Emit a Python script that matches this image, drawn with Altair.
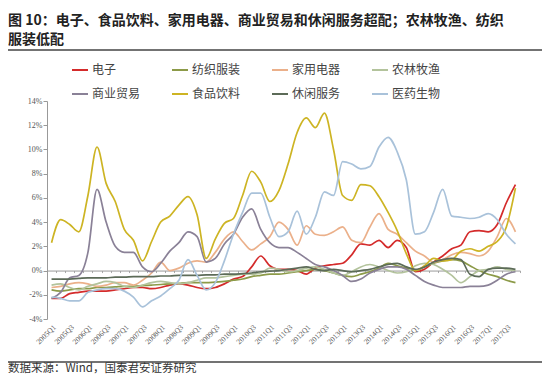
import altair as alt
import pandas as pd

# ---------------- data (% of portfolio over/under weight) ----------------
tick_labels = ["2005Q1", "2005Q3", "2006Q1", "2006Q3", "2007Q1", "2007Q3", "2008Q1", "2008Q3",
               "2009Q1", "2009Q3", "2010Q1", "2010Q3", "2011Q1", "2011Q3", "2012Q1", "2012Q3",
               "2013Q1", "2013Q3", "2014Q1", "2014Q3", "2015Q1", "2015Q3", "2016Q1", "2016Q3",
               "2017Q1", "2017Q3"]

series_names = ["电子", "纺织服装", "家用电器", "农林牧渔", "商业贸易", "食品饮料", "休闲服务", "医药生物"]
series_colors = ["#d42b2b", "#8c9a48", "#ebb08a", "#b3c39c", "#8a8197", "#cdb423", "#5c6b58", "#a9c2da"]

dianzi = [-2.3, -2.3, -1.9, -1.8, -1.7, -1.7, -1.7, -1.6, -1.5, -1.4, -1.4, -1.5, -1.4,
          -1.2, -1.1, -1.2, -1.4, -1.5, -1.4, -1.1, -0.7, -0.5, 0.3, 1.2, 0.4, 0.1,
          0.1, 0.0, -0.3, 0.2, 0.4, 0.5, 0.6, 1.3, 2.2, 2.1, 2.5, 1.9, 2.5, 1.9,
          -0.1, 0.1, 0.7, 1.2, 1.8, 2.1, 3.2, 3.3, 3.2, 3.8, 5.6, 7.1]
fangzhi = [-1.6, -1.7, -1.6, -1.5, -1.5, -1.4, -1.4, -1.35, -1.3, -1.3, -1.25, -1.2, -1.15,
           -1.1, -1.05, -1.0, -1.0, -1.0, -0.95, -0.9, -0.8, -0.7, -0.5, -0.4, -0.3, -0.3,
           -0.2, -0.1, 0.0, 0.1, 0.0, -0.2, -0.4, -0.5, -0.3, -0.1, 0.2, 0.6, 0.4, 0.2,
           0.0, 0.3, 0.6, 0.8, 0.9, 0.8, 0.4, 0.0, -0.3, -0.5, -0.8, -1.0]
jiadian = [-1.4, -1.3, -1.1, -1.0, -1.1, -1.3, -1.2, -1.0, -1.0, -1.2, -0.8, -0.2, 0.7,
           0.0, 0.2, 0.6, 0.8, 0.7, 1.5, 2.6, 3.2, 2.4, 1.7, 2.2, 2.8, 4.0,
           3.4, 2.1, 3.7, 3.0, 2.9, 3.2, 3.6, 2.5, 2.3, 3.6, 4.7, 3.4, 3.0, 2.3,
           1.6, 1.2, 0.7, 0.9, 1.3, 1.5, 1.4, 1.2, 1.6, 2.8, 4.3, 3.2]
nonglin = [-1.2, -1.1, -1.4, -1.6, -1.3, -1.1, -0.9, -1.0, -1.3, -1.4, -1.2, -1.0, -0.9,
           -1.0, -1.1, -1.0, -0.8, -0.6, -0.6, -0.5, -0.4, -0.3, -0.3, -0.2, 0.2, 0.1,
           -0.1, 0.0, 0.2, 0.3, 0.1, -0.2, -0.4, -0.1, 0.3, 0.5, 0.3, 0.0, -0.2, -0.1,
           0.4, 0.6, 0.5, 0.1, -0.4, -1.0, -0.5, 0.0, 0.1, 0.3, 0.1, 0.0]
shangye = [-2.3, -1.8, -0.6, -0.4, 1.5, 6.7, 4.0, 2.0, 1.5, 1.5, 0.3, -0.1, 0.6,
           1.6, 2.3, 3.2, 2.8, 0.7, 1.0, 2.2, 3.0, 4.4, 5.1, 3.4, 2.3, 1.9,
           1.9, 1.5, 1.0, 0.5, 0.3, 0.0, -0.4, -0.9, -0.7, -0.2, 0.1, 0.3, 0.3, 0.1,
           -0.4, -0.9, -1.2, -1.4, -1.4, -1.4, -1.3, -1.3, -1.2, -0.8, -0.3, -0.1]
shipin = [2.3, 4.2, 3.8, 3.2, 6.2, 10.2, 7.2, 5.7, 3.4, 2.5, 0.8, 2.4, 4.0,
          4.5, 5.4, 6.1, 4.6, 1.0, 2.6, 3.9, 4.3, 6.2, 8.2, 7.3, 5.7, 6.6,
          8.8, 11.4, 12.6, 11.8, 13.0, 10.0, 6.2, 5.8, 7.1, 7.0, 6.1, 4.8, 3.3, 1.4,
          0.0, 0.4, 1.0, 0.8, 0.9, 1.6, 1.8, 1.6, 2.0, 2.4, 3.6, 6.8]
xiuxian = [-0.7, -0.7, -0.7, -0.65, -0.6, -0.6, -0.6, -0.55, -0.55, -0.5, -0.5, -0.5, -0.45,
           -0.45, -0.4, -0.4, -0.4, -0.35, -0.35, -0.3, -0.3, -0.25, -0.2, -0.1, -0.05, 0.0,
           0.1, 0.2, 0.3, 0.1, 0.0, 0.1, 0.0, -0.1, 0.0, 0.1, 0.3, 0.5, 0.6, 0.3,
           0.1, 0.3, 0.7, 0.9, 1.0, 0.9, -0.3, -0.5, 0.1, 0.2, 0.2, 0.1]
yiyao = [-2.2, -2.3, -2.5, -2.5, -1.8, -1.6, -1.5, -1.5, -1.7, -2.2, -3.0, -2.5, -2.1,
         -1.5, -0.8, 0.9, -0.4, -1.6, -1.0, 0.8, 3.0, 4.8, 6.4, 6.4, 4.4, 2.8,
         3.2, 4.9, 3.0, 4.4, 6.5, 6.2, 9.0, 8.8, 8.4, 8.6, 10.2, 11.0, 9.8, 7.5,
         3.0, 3.2, 4.8, 6.7, 4.5, 4.4, 4.3, 4.4, 4.7, 4.2, 3.0, 2.2]

all_values = [dianzi, fangzhi, jiadian, nonglin, shangye, shipin, xiuxian, yiyao]

title_line1 = "图 10：电子、食品饮料、家用电器、商业贸易和休闲服务超配；农林牧渔、纺织"
title_line2 = "服装低配"
source_text = "数据来源：Wind，国泰君安证券研究"

rows = []
for name, vals in zip(series_names, all_values):
    for i, v in enumerate(vals):
        rows.append({"i": i, "series": name, "value": v})
df = pd.DataFrame(rows)

# ---------------- chart ----------------
W, H = 473, 218
CJK = "Noto Sans CJK SC"
SERIF = "Liberation Serif"

xscale = alt.Scale(domain=[-0.5, 51.5], nice=False, zero=False)
yscale = alt.Scale(domain=[-4, 14], nice=False)

label_array = "[" + ",".join(f"'{t}'" for t in tick_labels) + "]"

lines = alt.Chart(df).mark_line(strokeWidth=1.7, interpolate="monotone").encode(
    x=alt.X("i:Q", scale=xscale,
            axis=alt.Axis(orient="bottom", values=list(range(0, 51, 2)),
                          labelExpr=label_array + "[round(datum.value/2)]",
                          labelAngle=315, labelFont=SERIF, labelFontSize=7.5,
                          labelColor="#555", labelPadding=4, domain=False, ticks=False,
                          grid=False, title=None, labelOverlap=False, labelBound=False)),
    y=alt.Y("value:Q", scale=yscale,
            axis=alt.Axis(values=list(range(-4, 15, 2)), labelExpr="datum.value + '%'",
                          labelFont=SERIF, labelFontSize=8, labelColor="#555",
                          domainColor="#999", tickColor="#999", tickSize=4, labelPadding=1,
                          grid=False, title=None)),
    color=alt.Color("series:N",
                    scale=alt.Scale(domain=series_names, range=series_colors),
                    sort=series_names,
                    legend=alt.Legend(orient="none", legendX=24, legendY=-40, direction="horizontal",
                                      columns=4, symbolType="stroke", symbolSize=256,
                                      symbolStrokeWidth=2, labelFont=CJK, labelFontSize=12,
                                      labelColor="#444", labelOffset=3, columnPadding=27,
                                      rowPadding=9, title=None)),
    order=alt.Order("i:Q"),
)

zero_axis = alt.Chart(df).mark_point(opacity=0).encode(
    x=alt.X("i:Q", scale=xscale,
            axis=alt.Axis(orient="bottom", offset=-H * 4 / 18,
                          values=[k - 0.5 for k in range(53)], labels=False,
                          domainColor="#999", tickColor="#aaa", tickSize=2,
                          grid=False, title=None)),
)

t1 = alt.Chart(pd.DataFrame({"t": [title_line1]})).mark_text(
    align="left", baseline="middle", font=CJK, fontSize=14, fontWeight="bold", color="#222"
).encode(x=alt.value(-39), y=alt.value(-80), text="t:N")
t2 = alt.Chart(pd.DataFrame({"t": [title_line2]})).mark_text(
    align="left", baseline="middle", font=CJK, fontSize=14, fontWeight="bold", color="#222"
).encode(x=alt.value(-39), y=alt.value(-61), text="t:N")
src = alt.Chart(pd.DataFrame({"t": [source_text]})).mark_text(
    align="left", baseline="middle", font=CJK, fontSize=11.5, color="#333"
).encode(x=alt.value(-39), y=alt.value(268), text="t:N")

rule_top = alt.Chart(pd.DataFrame({"a": [0]})).mark_rule(color="#444", strokeWidth=1.5).encode(
    x=alt.value(-39), x2=alt.value(495), y=alt.value(-51))
rule_bot = alt.Chart(pd.DataFrame({"a": [0]})).mark_rule(color="#444", strokeWidth=1.5).encode(
    x=alt.value(-39), x2=alt.value(495), y=alt.value(261))

chart = alt.layer(zero_axis, lines, t1, t2, src, rule_top, rule_bot).resolve_axis(
    x="independent"
).properties(
    width=W, height=H,
    autosize=alt.AutoSizeParams(type="none"),
    padding={"left": 39, "top": 93, "right": 22, "bottom": 57},
    background="white",
).configure_view(stroke=None)

chart.save("out.html", embed_options={"renderer": "svg", "actions": False})
